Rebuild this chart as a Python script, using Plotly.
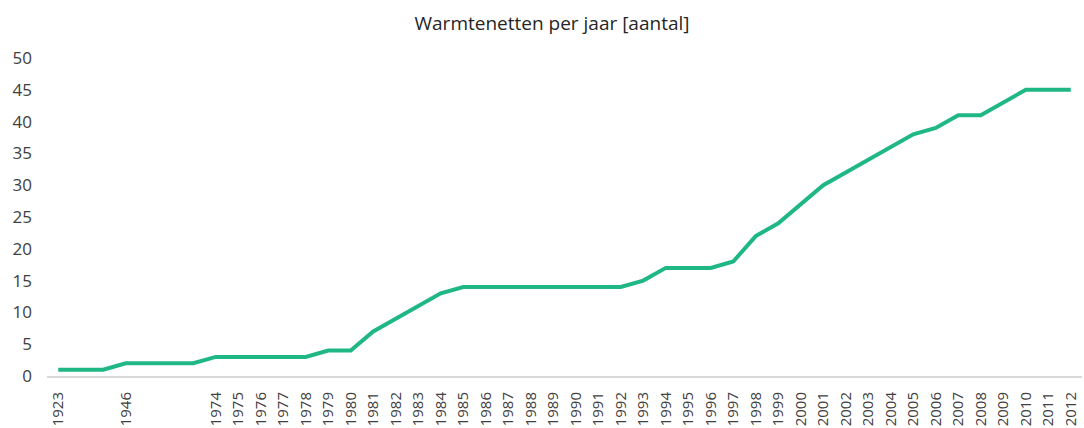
import plotly.graph_objects as go

labels = ["1923", "", "", "1946", "", "", ""] + [str(y) for y in range(1974, 2013)]
values = [1, 1, 1, 2, 2, 2, 2,
          3, 3, 3, 3, 3, 4, 4, 7, 9, 11, 13, 14, 14, 14, 14, 14, 14, 14, 14,
          15, 17, 17, 17, 18, 22, 24, 27, 30, 32, 34, 36, 38, 39, 41, 41, 43, 45, 45, 45]
title = "Warmtenetten per jaar [aantal]"

idx = list(range(len(labels)))

fig = go.Figure()
fig.add_trace(go.Scatter(x=idx, y=values, mode="lines",
                         line=dict(color="#1FB884", width=4), hoverinfo="skip"))

fig.update_layout(
    width=1084, height=428,
    margin=dict(l=47, r=2, t=58, b=52),
    paper_bgcolor="white", plot_bgcolor="white",
    showlegend=False,
    font=dict(family="Open Sans, sans-serif", color="#404040", size=16),
    title=dict(text=title, x=552 / 1084, xanchor="center", y=1 - 23 / 428, yref="container",
               yanchor="middle", font=dict(size=19, color="#262626")),
)
fig.update_xaxes(range=[-0.5, len(labels) - 0.5], tickmode="array", tickvals=idx,
                 ticktext=labels, tickangle=-90, showgrid=False, zeroline=False,
                 showline=True, linecolor="#D9D9D9", linewidth=2, ticks="",
                 tickfont=dict(size=15), ticklabelstandoff=8, automargin=False)
fig.update_yaxes(range=[0, 50], dtick=5, showgrid=False, zeroline=False,
                 showline=False, ticks="", tickfont=dict(size=17),
                 ticklabelstandoff=14, automargin=False)

fig.write_html("out.html", config={"displayModeBar": False},
               post_script="document.body.style.margin='0';document.body.style.overflow='hidden';")
